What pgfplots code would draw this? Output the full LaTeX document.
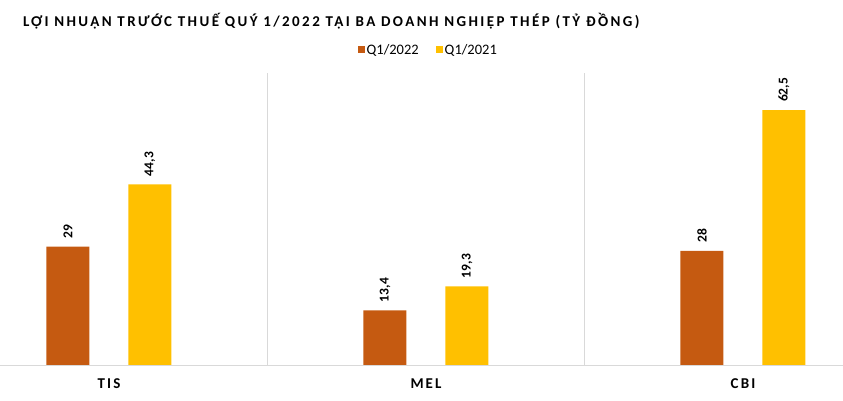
\documentclass[border=0pt]{standalone}
\usepackage{fontspec}
\setmainfont{Carlito}
\newfontfamily\titlefont[LetterSpace=16]{Carlito}
\newfontfamily\catfont[LetterSpace=14]{Carlito}
\usepackage{pgfplots}
\pgfplotsset{compat=1.18}
\definecolor{cbrown}{HTML}{C55A11}
\definecolor{cgold}{HTML}{FFC000}
\definecolor{cgrid}{HTML}{D9D9D9}
\begin{document}
\begin{tikzpicture}
\useasboundingbox (0,0) rectangle (843pt,401pt);
\node[anchor=west, inner sep=0pt, font=\titlefont\bfseries\fontsize{15}{17}\selectfont] at (23pt,380pt)
  {LỢI NHUẬN TRƯỚC THUẾ QUÝ 1/2022 TẠI BA DOANH NGHIỆP THÉP (TỶ ĐỒNG)};
\begin{axis}[
  at={(0pt,36pt)}, anchor=south west,
  scale only axis,
  width=843pt, height=292pt,
  xmin=-0.3438, xmax=2.3155,
  ymin=0, ymax=71.6,
  ybar=39pt, bar width=43pt,
  axis x line*=bottom,
  axis y line=none,
  x axis line style={cgrid, line width=0.8pt, -},
  xtick={0,1,2},
  xticklabels={TIS,MEL,CBI},
  xticklabel style={font=\catfont\bfseries\fontsize{15}{17}\selectfont, text=black, yshift=-10pt},
  major tick length=0pt,
  minor xtick={0.5,1.5},
  minor tick length=0pt,
  xminorgrids,
  minor grid style={cgrid, line width=0.8pt},
  clip=false,
  point meta=explicit symbolic,
  nodes near coords,
  every node near coord/.append style={
    rotate=90, anchor=west, inner sep=0pt, xshift=8pt,
    font=\bfseries\fontsize{13.5}{15}\selectfont, text=black},
  legend style={at={(0.508,1.079)}, anchor=center, draw=none, fill=none,
    font=\fontsize{14.5}{16}\selectfont,
    /tikz/every even column/.append style={column sep=15pt}},
  legend columns=2,
  legend image code/.code={\fill[#1, draw=none] (0pt,-3.5pt) rectangle (7pt,3.5pt);},
]
\addplot[fill=cbrown, draw=none] coordinates {(0,29)[29] (1,13.4)[13,4] (2,28)[28]};
\addplot[fill=cgold, draw=none] coordinates {(0,44.3)[44,3] (1,19.3)[19,3] (2,62.5)[62,5]};
\legend{Q1/2022, Q1/2021}
\end{axis}
\end{tikzpicture}
\end{document}
